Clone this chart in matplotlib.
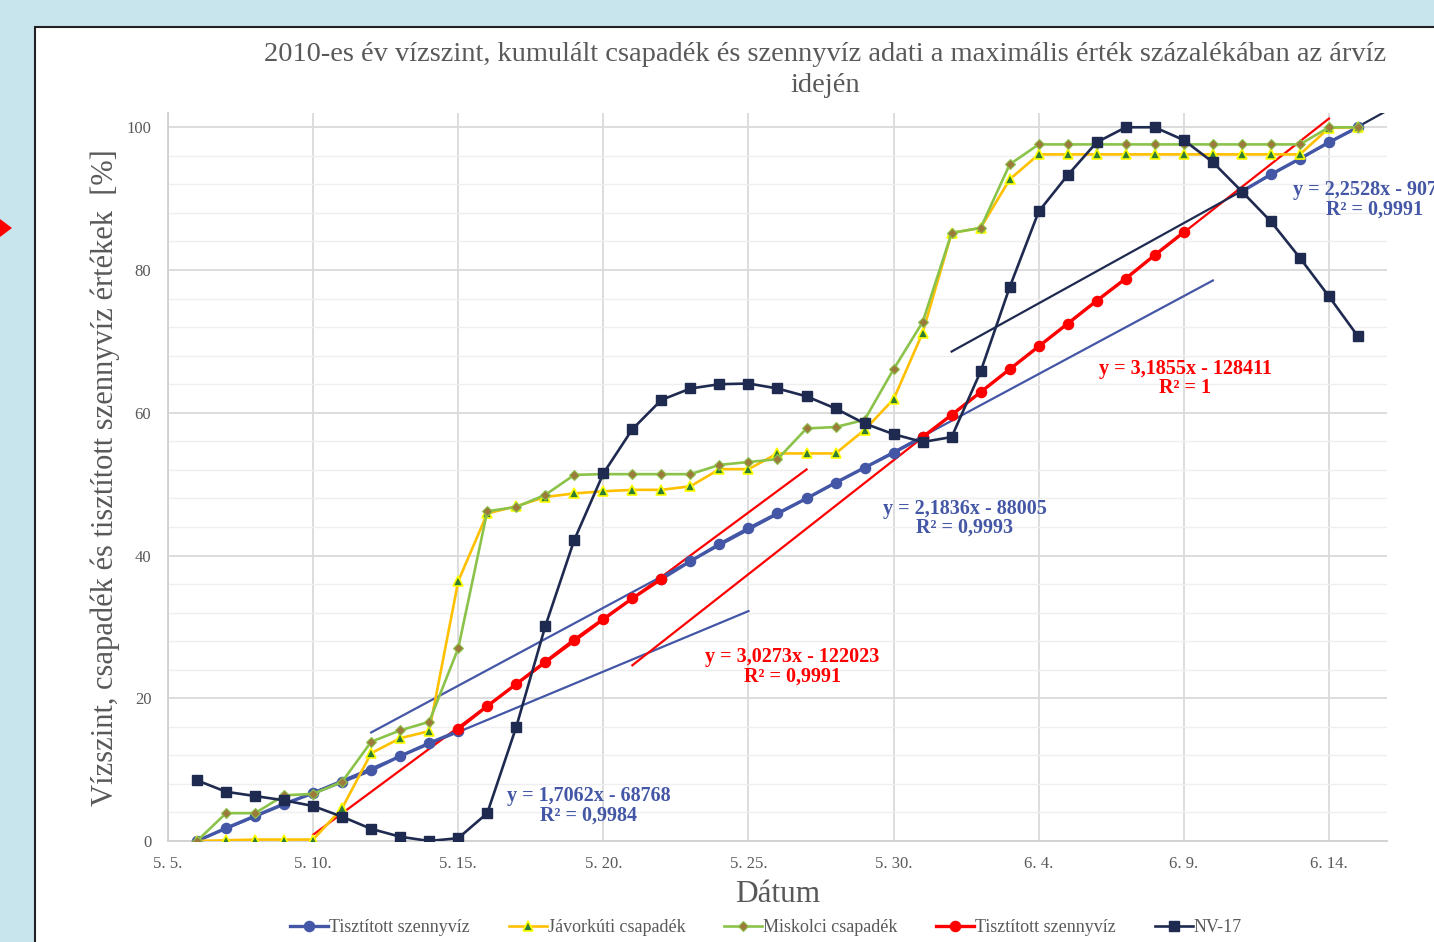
import numpy as np
import pandas as pd
import matplotlib
matplotlib.use("Agg")
import matplotlib.pyplot as plt
import matplotlib.dates as mdates
from matplotlib.patches import Rectangle, Polygon
from matplotlib.ticker import MultipleLocator, FuncFormatter

# ---------------- data ----------------
dates = pd.date_range("2010-05-06", periods=41, freq="D")
nan = np.nan

tisztitott_1 = [0.0, 1.8, 3.5, 5.2, 6.7, 8.3, 9.9, 11.9, 13.7, 15.4,
                nan, nan, nan, nan, nan, nan,
                36.7, 39.2, 41.6, 43.8, 45.9, 48.0, 50.2, 52.3, 54.4, 56.6,
                nan, nan, nan, nan, nan, nan, nan, nan, nan, nan,
                91.0, 93.4, 95.6, 97.9, 100.0]

javorkuti = [0.0, 0.1, 0.2, 0.2, 0.2, 4.6, 12.3, 14.4, 15.4, 36.4,
             45.9, 46.9, 48.2, 48.7, 49.0, 49.2, 49.2, 49.7, 52.1, 52.1,
             54.3, 54.3, 54.3, 57.6, 61.9, 71.2, 85.2, 85.9, 92.7, 96.2,
             96.2, 96.2, 96.2, 96.2, 96.2, 96.2, 96.2, 96.2, 96.2, 99.9, 100.0]

miskolci = [0.0, 3.9, 3.9, 6.4, 6.6, 8.3, 13.9, 15.5, 16.7, 27.0,
            46.2, 46.8, 48.5, 51.3, 51.4, 51.4, 51.4, 51.4, 52.7, 53.1,
            53.5, 57.8, 58.0, 59.0, 66.1, 72.7, 85.2, 85.9, 94.8, 97.6,
            97.6, 97.6, 97.6, 97.6, 97.6, 97.6, 97.6, 97.6, 97.6, 100.0, 100.0]

tisztitott_2 = [nan, nan, nan, nan, nan, nan, nan, nan, nan, 15.7,
                18.9, 22.0, 25.1, 28.2, 31.1, 34.0, 36.7,
                nan, nan, nan, nan, nan, nan, nan, nan,
                56.6, 59.7, 62.9, 66.1, 69.3, 72.5, 75.7, 78.8, 82.1, 85.3,
                nan, nan, nan, nan, nan, nan]

nv17 = [8.5, 6.9, 6.3, 5.7, 4.9, 3.4, 1.7, 0.6, 0.0, 0.4,
        3.9, 16.0, 30.1, 42.2, 51.5, 57.7, 61.8, 63.4, 64.0, 64.1,
        63.4, 62.3, 60.6, 58.5, 57.0, 55.9, 56.6, 65.8, 77.6, 88.2,
        93.3, 97.9, 100.0, 100.0, 98.2, 95.1, 91.0, 86.8, 81.7, 76.3, 70.7]

series_names = ["Tisztított szennyvíz", "Jávorkúti csapadék", "Miskolci csapadék",
                "Tisztított szennyvíz", "NV-17"]

# trendlines: (series key, fit first date, fit last date, draw from, draw to, equation text)
trend_defs = [
    ("t1", "2010-05-06", "2010-05-15", "2010-05-06", "2010-05-25", "y = 1,7062x - 68768\nR² = 0,9984"),
    ("t2", "2010-05-15", "2010-05-22", "2010-05-10", "2010-05-27", "y = 3,0273x - 122023\nR² = 0,9991"),
    ("t1", "2010-05-22", "2010-05-31", "2010-05-12", "2010-06-10", "y = 2,1836x - 88005\nR² = 0,9993"),
    ("t2", "2010-05-31", "2010-06-09", "2010-05-21", "2010-06-14", "y = 3,1855x - 128411\nR² = 1"),
    ("t1", "2010-06-11", "2010-06-15", "2010-06-01", "2010-06-18", "y = 2,2528x - 90787\nR² = 0,9991"),
]

x_ticks = pd.date_range("2010-05-05", "2010-06-14", freq="5D")

# ---------------- styling ----------------
BLUE = "#4457A6"
ORANGE = "#FFC000"
GREEN = "#8BC34A"
RED = "#FF0000"
NAVY = "#1F2A50"
GRAY = "#595959"
SERIF = ["Liberation Serif", "DejaVu Serif"]

plt.rcParams["font.family"] = SERIF

W, H = 1434, 942
fig = plt.figure(figsize=(W / 100, H / 100), dpi=100, facecolor="#C8E4EC")

# white chart area with black border
fig.patches.append(Rectangle((35 / W, -0.05), 1.2, 1 - 27 / H + 0.05,
                             transform=fig.transFigure, facecolor="white",
                             edgecolor="#222222", linewidth=1.5, zorder=-10))
# red arrow marker at left edge
fig.patches.append(Polygon([(0, 1 - 219 / H), (0, 1 - 237 / H), (12 / W, 1 - 228 / H)],
                           closed=True, transform=fig.transFigure,
                           facecolor="red", edgecolor="none", zorder=-9))

ax = fig.add_axes([168 / W, 1 - 841 / H, (1387 - 168) / W, (841 - 113) / H])
ax.set_zorder(1)
ax.set_facecolor("white")

ax.set_xlim(pd.Timestamp("2010-05-05"), pd.Timestamp("2010-06-16"))
ax.set_ylim(0, 102)

ax.yaxis.set_major_locator(MultipleLocator(20))
ax.yaxis.set_minor_locator(MultipleLocator(4))
ax.set_xticks(x_ticks)
ax.xaxis.set_major_formatter(FuncFormatter(
    lambda v, p: f"{mdates.num2date(v).month}. {mdates.num2date(v).day}."))
ax.grid(which="major", axis="both", color="#DADADA", linewidth=1.3)
ax.grid(which="minor", axis="y", color="#EFEFEF", linewidth=1.0)
ax.set_axisbelow(True)
for s in ["top", "right"]:
    ax.spines[s].set_visible(False)
for s in ["left", "bottom"]:
    ax.spines[s].set_color("#D0D0D0")
    ax.spines[s].set_linewidth(1.3)
ax.tick_params(which="both", length=0, colors=GRAY, labelsize=12)
ax.tick_params(axis="x", pad=11)
ax.tick_params(axis="y", pad=12)

data = {"t1": np.array(tisztitott_1, dtype=float),
        "t2": np.array(tisztitott_2, dtype=float)}

# series
ax.plot(dates, tisztitott_1, color=BLUE, lw=2.4, marker="o", ms=7.3,
        mfc=BLUE, mec=BLUE, label=series_names[0], zorder=3)
ax.plot(dates, javorkuti, color=ORANGE, lw=1.9, marker="^", ms=6.5,
        mfc="#2E7D32", mec="#FFFF00", mew=1.2, label=series_names[1], zorder=3)
ax.plot(dates, miskolci, color=GREEN, lw=1.9, marker="D", ms=5,
        mfc="#9C7A3C", mec=GREEN, mew=0.8, label=series_names[2], zorder=3)
ax.plot(dates, tisztitott_2, color=RED, lw=2.4, marker="o", ms=7.3,
        mfc=RED, mec=RED, label=series_names[3], zorder=4)
ax.plot(dates, nv17, color=NAVY, lw=1.9, marker="s", ms=7.5,
        mfc=NAVY, mec=NAVY, label=series_names[4], zorder=5)

# trendlines
trend_colors = [BLUE, RED, BLUE, RED, NAVY]
label_colors = [BLUE, RED, BLUE, RED, BLUE]
label_pos = [(pd.Timestamp("2010-05-19 12:00"), 4.9),
             (pd.Timestamp("2010-05-26 12:00"), 24.4),
             (pd.Timestamp("2010-06-01 11:00"), 45.2),
             (pd.Timestamp("2010-06-09 01:00"), 64.8),
             (pd.Timestamp("2010-06-15 14:00"), 89.8)]
xnum_all = mdates.date2num(dates)
for i, (key, f0, f1, d0, d1, txt) in enumerate(trend_defs):
    y = data[key]
    mask = (dates >= pd.Timestamp(f0)) & (dates <= pd.Timestamp(f1)) & ~np.isnan(y)
    k, b = np.polyfit(xnum_all[mask], y[mask], 1)
    xs = mdates.date2num(pd.to_datetime([d0, d1]))
    ax.plot(mdates.num2date(xs), k * xs + b, color=trend_colors[i], lw=1.6, zorder=2)
    ax.text(label_pos[i][0], label_pos[i][1], txt, color=label_colors[i],
            fontsize=14.5, fontweight="bold", ha="center", va="center",
            multialignment="center", linespacing=0.95, zorder=6, clip_on=False)

# titles
fig.text(825 / W, 1 - 70 / H,
         "2010-es év vízszint, kumulált csapadék és szennyvíz adati a maximális érték százalékában az árvíz\nidején",
         ha="center", va="center", fontsize=20.5, color=GRAY, linespacing=1.27)
fig.text(778 / W, 1 - 895 / H, "Dátum", ha="center", va="center", fontsize=22.5, color=GRAY)
fig.text(105 / W, 1 - 478 / H, "Vízszint, csapadék és tisztított szennyvíz értékek  [%]",
         ha="center", va="center", rotation=90, fontsize=22, color=GRAY)

leg = fig.legend(loc="center", bbox_to_anchor=(766 / W, 1 - 928 / H), ncol=5,
                 frameon=False, fontsize=13, handlelength=2.1, columnspacing=2.15,
                 handletextpad=0.05, labelcolor=GRAY)

fig.savefig("out.png", dpi=100, facecolor=fig.get_facecolor())
